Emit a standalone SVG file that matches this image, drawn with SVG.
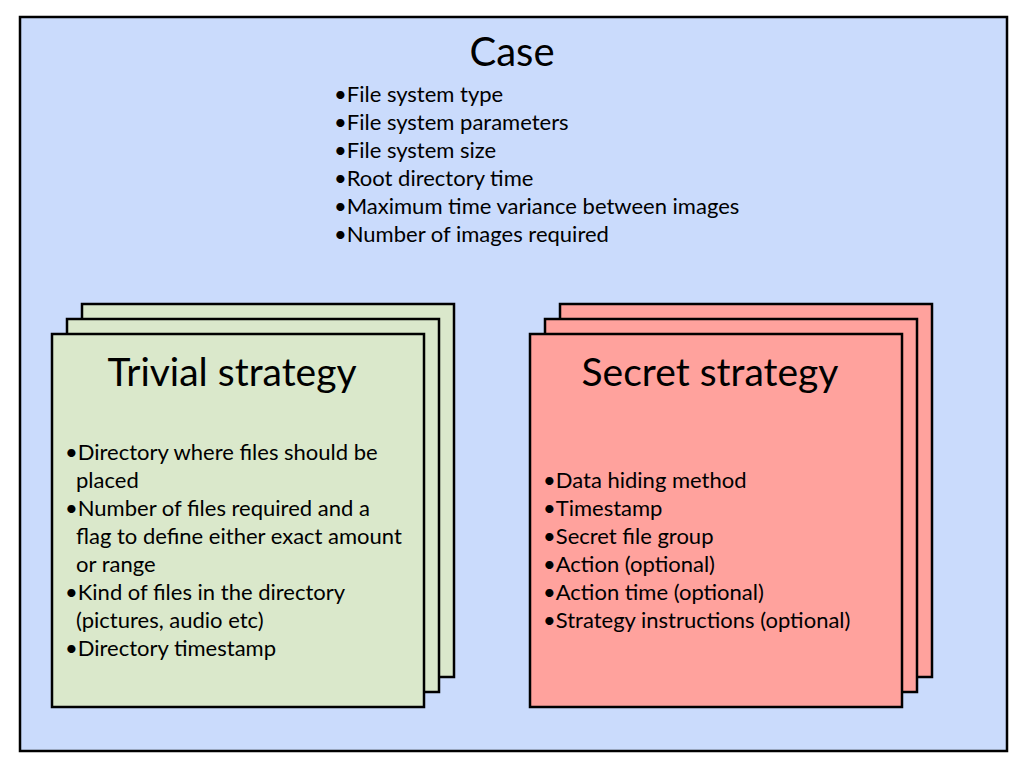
<svg xmlns="http://www.w3.org/2000/svg" width="1024" height="768" viewBox="0 0 1024 768">
<style>
.t{font-family:Lato,"Open Sans","Liberation Sans",sans-serif;fill:#000}
.h{font-size:39px}
.c{font-size:40px}
.b{font-size:22px}
.card{stroke:#000;stroke-width:2.5}
.g{fill:#dae8cb}
.r{fill:#ffa29d}
</style>
<rect x="0" y="0" width="1024" height="768" fill="#fff"/>
<g id="case">
<rect x="20" y="17" width="987" height="734" fill="#cadbfc" stroke="#000" stroke-width="2.5"/>
<text class="t c" x="512" y="66" text-anchor="middle">Case</text>
<text class="t b" x="334" y="102">•File system type</text>
<text class="t b" x="334" y="130">•File system parameters</text>
<text class="t b" x="334" y="158">•File system size</text>
<text class="t b" x="334" y="186">•Root directory time</text>
<text class="t b" x="334" y="214">•Maximum time variance between images</text>
<text class="t b" x="334" y="242">•Number of images required</text>
</g>
<g id="trivial">
<rect class="card g" x="82" y="304" width="372" height="373"/>
<rect class="card g" x="67" y="319" width="372" height="373"/>
<rect class="card g" x="52" y="334" width="372" height="373"/>
<text class="t h" x="232" y="386" text-anchor="middle">Trivial strategy</text>
<text class="t b" x="65" y="460">•Directory where files should be</text>
<text class="t b" x="76" y="488">placed</text>
<text class="t b" x="65" y="516">•Number of files required and a</text>
<text class="t b" x="76" y="544">flag to define either exact amount</text>
<text class="t b" x="76" y="572">or range</text>
<text class="t b" x="65" y="600">•Kind of files in the directory</text>
<text class="t b" x="76" y="628">(pictures, audio etc)</text>
<text class="t b" x="65" y="656">•Directory timestamp</text>
</g>
<g id="secret">
<rect class="card r" x="560" y="304" width="372" height="373"/>
<rect class="card r" x="545" y="319" width="372" height="373"/>
<rect class="card r" x="530" y="334" width="372" height="373"/>
<text class="t h" x="710" y="386" text-anchor="middle">Secret strategy</text>
<text class="t b" x="543" y="488">•Data hiding method</text>
<text class="t b" x="543" y="516">•Timestamp</text>
<text class="t b" x="543" y="544">•Secret file group</text>
<text class="t b" x="543" y="572">•Action (optional)</text>
<text class="t b" x="543" y="600">•Action time (optional)</text>
<text class="t b" x="543" y="628">•Strategy instructions (optional)</text>
</g>
<g id="connectors"/>
</svg>
